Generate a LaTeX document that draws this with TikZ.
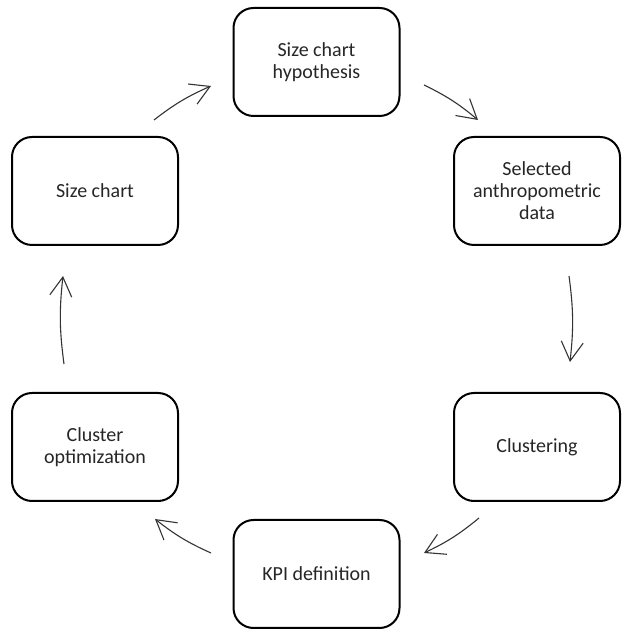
\documentclass[tikz,border=0pt]{standalone}
\usepackage{fontspec}
\setmainfont{Carlito}
\usetikzlibrary{arrows.meta,positioning}

\begin{document}
\begin{tikzpicture}[
		x=1pt,y=1pt,
		>={Straight Barb[length=19pt,width=22pt]},
		stage/.style={rectangle,draw,rounded corners=20pt,line width=2pt,
			minimum width=166pt,minimum height=108pt,align=center,
			text=black!85,font=\fontsize{20}{22}\selectfont},
		flow/.style ={draw=black!80,->,line width=1.1pt,bend left=7}
		]

		% ---- page frame (reference proportions) ----
		\useasboundingbox (0,0) rectangle (621,629);

		% =====================================================
		% Six stages on a loop, clockwise from the top:
		%   hypothesis -> data -> clustering -> KPI -> optimization -> size chart
		% =====================================================

		% ---- top row ----
		\node[stage] (hyp)        at (316.5, 567) {Size chart\\hypothesis};

		% ---- upper row ----
		\node[stage] (sizechart)  at ( 95.0, 438) {Size chart};
		\node[stage] (selected)   at (537.0, 438) {Selected\\anthropometric\\data};

		% ---- lower row ----
		\node[stage] (clusteropt) at ( 95.0, 182) {Cluster\\optimization};
		\node[stage] (clustering) at (537.0, 182) {Clustering};

		% ---- bottom row ----
		\node[stage] (kpi)        at (316.5,  55) {KPI definition};

		% ---- loop arrows (free-floating, gaps to the boxes) ----
		\draw[flow] ([xshift=-25pt,yshift=16pt]sizechart.north east)
			to ([xshift=-21.5pt,yshift=-24pt]hyp.west);
		\draw[flow] ([xshift=23.5pt,yshift=-23pt]hyp.east)
			to ([xshift=25pt,yshift=16pt]selected.north west);
		\draw[flow] ([xshift=32pt,yshift=-30pt]selected.south)
			to ([xshift=33pt,yshift=30pt]clustering.north);
		\draw[flow] ([xshift=26pt,yshift=-16pt]clustering.south west)
			to ([xshift=23.5pt,yshift=21pt]kpi.east);
		\draw[flow] ([xshift=-21.5pt,yshift=21pt]kpi.west)
			to ([xshift=-24pt,yshift=-17pt]clusteropt.south east);
		\draw[flow] ([xshift=-31pt,yshift=28pt]clusteropt.north)
			to ([xshift=-32pt,yshift=-30pt]sizechart.south);

	\end{tikzpicture}
\end{document}
